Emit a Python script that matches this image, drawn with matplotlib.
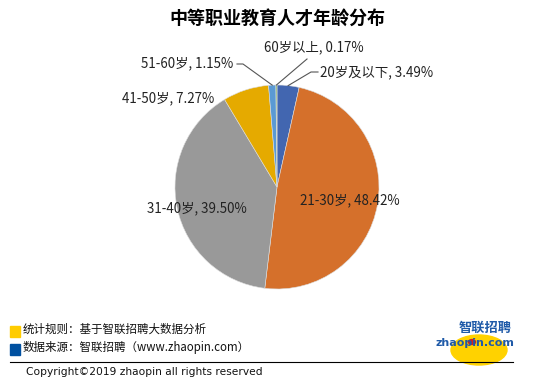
import numpy as np
import matplotlib
matplotlib.use('Agg')
import matplotlib.pyplot as plt
from matplotlib.patches import Rectangle, Ellipse, Circle
from matplotlib.lines import Line2D

plt.rcParams['font.family'] = ['Noto Sans CJK SC', 'DejaVu Sans']

# data, clockwise from 12 o'clock
labels = ['20岁及以下', '21-30岁', '31-40岁', '41-50岁', '51-60岁', '60岁以上']
values = [3.49, 48.42, 39.50, 7.27, 1.15, 0.17]
colors = ['#4266B0', '#D5702B', '#999999', '#E5AA00', '#5A9AD4', '#6FAC46']
title = '中等职业教育人才年龄分布'
notes = ['统计规则：基于智联招聘大数据分析', '数据来源：智联招聘（www.zhaopin.com）']
copyright_txt = 'Copyright©2019 zhaopin all rights reserved'

W, H = 554, 390
fig = plt.figure(figsize=(W / 100, H / 100), dpi=100)

def fx(px):
    return px / W

def fy(py):
    return 1 - py / H

cx, cy, r = 277, 187, 102
ax = fig.add_axes([fx(cx - r), fy(cy + r), 2 * r / W, 2 * r / H])
wedges, _ = ax.pie(values, colors=colors, startangle=90, counterclock=False,
                   wedgeprops=dict(edgecolor='#dddddd', linewidth=0.4))
ax.set_xlim(-1, 1)
ax.set_ylim(-1, 1)
ax.axis('off')

fig.text(0.5, fy(18), title, ha='center', va='center', fontsize=13, fontweight='bold')

# label text positions (pixels) and leader lines
lab_pos = {
    0: (320, 72, 'left'),
    1: (300, 200, 'left'),
    2: (147, 208, 'left'),
    3: (122, 98, 'left'),
    4: (233, 63, 'right'),
    5: (264, 47, 'left'),
}
for i, (px, py, ha) in lab_pos.items():
    txt = f'{labels[i]}, {values[i]:.2f}%'
    fig.text(fx(px), fy(py), txt, ha=ha, va='center', fontsize=9.6, color='#222222')

def edge_point(i):
    w = wedges[i]
    ang = np.deg2rad((w.theta1 + w.theta2) / 2)
    return cx + r * np.cos(ang), cy - r * np.sin(ang)

# leader lines: from label side to wedge edge
leaders = {
    0: [(318, 72), (311, 72)],
    4: [(237, 64), (243, 64)],
    5: [(307, 59)],
}
for i, pts in leaders.items():
    ex, ey = edge_point(i)
    xs = [p[0] for p in pts] + [ex]
    ys = [p[1] for p in pts] + [ey]
    fig.add_artist(Line2D([fx(x) for x in xs], [fy(y) for y in ys],
                          color='#555555', lw=0.8, transform=fig.transFigure))

# footer
sq_cols = ['#FFCC00', '#0050A0']
for k, (note, c) in enumerate(zip(notes, sq_cols)):
    y = 330 + k * 18
    fig.add_artist(Rectangle((fx(10), fy(y + 7)), 10 / W, 11 / H, color=c,
                             transform=fig.transFigure))
    fig.text(fx(23), fy(y - 1), note, ha='left', va='center', fontsize=8.3, color='#111111')

fig.add_artist(Line2D([fx(10), fx(513)], [fy(362), fy(362)], color='black', lw=0.8,
                      transform=fig.transFigure))
fig.text(fx(26), fy(372), copyright_txt, ha='left', va='center', fontsize=7.7, color='#111111',
         family=['DejaVu Sans'])

# logo
fig.add_artist(Ellipse((fx(479), fy(350)), 56 / W, 30 / H, color='#FFD200',
                       transform=fig.transFigure))
fig.text(fx(485), fy(328), '智联招聘', ha='center', va='center', fontsize=9.5,
         fontweight='bold', color='#1F5AA8', style='italic')
fig.text(fx(475), fy(343), 'zhaopin.com', ha='center', va='center', fontsize=8,
         fontweight='bold', color='#1F5AA8', family=['DejaVu Sans'])
fig.add_artist(Circle((fx(472), fy(342)), 3.5 / W, color='#D02020', transform=fig.transFigure))

fig.savefig('out.png', dpi=100)
